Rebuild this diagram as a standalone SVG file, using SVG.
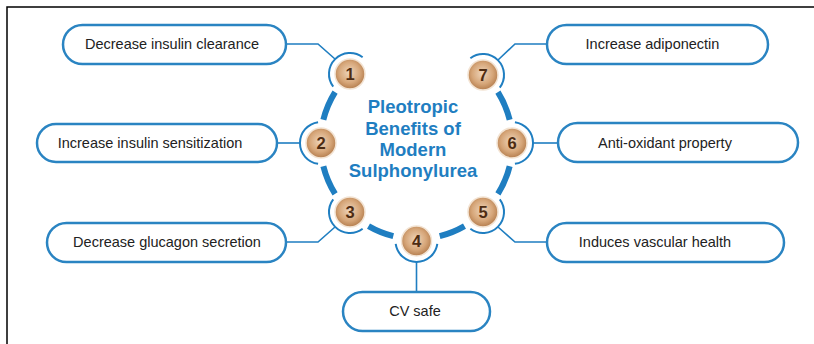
<svg xmlns="http://www.w3.org/2000/svg" width="814" height="344" viewBox="0 0 814 344">
<defs>
<radialGradient id="bronze" cx="48%" cy="45%" r="58%">
<stop offset="0%" stop-color="#EFD6BC"/>
<stop offset="60%" stop-color="#D6A679"/>
<stop offset="100%" stop-color="#B07848"/>
</radialGradient>
<style>
.frame{fill:none;stroke:#000;stroke-width:1.5}
.box{fill:#fff;stroke:#2A84C2;stroke-width:2.5}
.lbl{font-family:"Liberation Sans",Arial,sans-serif;font-size:14.5px;fill:#222;text-anchor:middle}
.title{font-family:"Liberation Sans",Arial,sans-serif;font-size:18.5px;font-weight:bold;fill:#1F7EC1;text-anchor:middle}
.ring{fill:none;stroke:#1F7EC1;stroke-width:6}
.thin{fill:none;stroke:#1F7EC1;stroke-width:2}
.conn{fill:none;stroke:#1F7EC1;stroke-width:1.6}
.dot{fill:url(#bronze);stroke:#F3E4D4;stroke-width:1.5}
.num{font-family:"Liberation Sans",Arial,sans-serif;font-size:16.5px;font-weight:bold;fill:#4E2C12;text-anchor:middle}
</style>
</defs>
<rect width="814" height="344" fill="#fff"/>
<path class="frame" d="M7,344 V7 H814"/>

<g id="hub">
<path class="ring" d="M323.35,119.78 A96,96 0 0 1 335.09,92.13"/>
<path class="ring" d="M335.09,193.87 A96,96 0 0 1 323.35,166.22"/>
<path class="ring" d="M393.28,236.15 A96,96 0 0 1 368.5,226.14"/>
<path class="ring" d="M464.5,226.14 A96,96 0 0 1 439.72,236.15"/>
<path class="ring" d="M509.65,166.22 A96,96 0 0 1 497.91,193.87"/>
<path class="ring" d="M497.91,92.13 A96,96 0 0 1 509.65,119.78"/>
<text class="title" x="413" y="113">Pleotropic</text>
<text class="title" x="413" y="135">Benefits of</text>
<text class="title" x="413" y="156">Modern</text>
<text class="title" x="413" y="177">Sulphonylurea</text>
</g>

<g id="connectors">
<polyline class="conn" points="286,44 318,44 335,59"/>
<polyline class="conn" points="277,143 300,143"/>
<polyline class="conn" points="286,242 318,242 335,227"/>
<polyline class="conn" points="416.5,262 416.5,292"/>
<polyline class="conn" points="547,242 515,242 498,227"/>
<polyline class="conn" points="558,143 533,143"/>
<polyline class="conn" points="547,44 515,44 498,60"/>
</g>

<g id="n1">
<path class="thin" d="M333.23,86.64 A21,21 0 0 1 362.64,57.23"/>
<circle class="dot" cx="350" cy="74" r="15"/>
<text class="num" x="350" y="80">1</text>
<rect class="box" x="63" y="25" width="223" height="39" rx="19.5"/>
<text class="lbl" x="172" y="49">Decrease insulin clearance</text>
</g>
<g id="n2">
<path class="thin" d="M318.08,163.8 A21,21 0 0 1 318.08,122.2"/>
<circle class="dot" cx="321" cy="143" r="15"/>
<text class="num" x="321" y="149">2</text>
<rect class="box" x="37" y="124" width="240" height="38" rx="19"/>
<text class="lbl" x="150" y="148">Increase insulin sensitization</text>
</g>
<g id="n3">
<path class="thin" d="M362.64,228.77 A21,21 0 0 1 333.23,199.36"/>
<circle class="dot" cx="350" cy="212" r="15"/>
<text class="num" x="350" y="218">3</text>
<rect class="box" x="47" y="223" width="239" height="39" rx="19.5"/>
<text class="lbl" x="167" y="247">Decrease glucagon secretion</text>
</g>
<g id="n4">
<path class="thin" d="M437.3,243.92 A21,21 0 0 1 395.7,243.92"/>
<circle class="dot" cx="416.5" cy="241" r="15"/>
<text class="num" x="416.5" y="247">4</text>
<rect class="box" x="343" y="292" width="147" height="39" rx="19.5"/>
<text class="lbl" x="415" y="316">CV safe</text>
</g>
<g id="n5">
<path class="thin" d="M499.77,199.36 A21,21 0 0 1 470.36,228.77"/>
<circle class="dot" cx="483" cy="212" r="15"/>
<text class="num" x="483" y="218">5</text>
<rect class="box" x="547" y="223" width="237" height="39" rx="19.5"/>
<text class="lbl" x="655" y="247">Induces vascular health</text>
</g>
<g id="n6">
<path class="thin" d="M514.92,122.2 A21,21 0 0 1 514.92,163.8"/>
<circle class="dot" cx="512" cy="143" r="15"/>
<text class="num" x="512" y="149">6</text>
<rect class="box" x="558" y="123" width="240" height="39" rx="19.5"/>
<text class="lbl" x="665" y="148">Anti-oxidant property</text>
</g>
<g id="n7">
<path class="thin" d="M470.36,58.23 A21,21 0 0 1 499.77,87.64"/>
<circle class="dot" cx="483" cy="75" r="15"/>
<text class="num" x="483" y="81">7</text>
<rect class="box" x="547" y="25" width="221" height="39" rx="19.5"/>
<text class="lbl" x="652.5" y="49">Increase adiponectin</text>
</g>
</svg>
